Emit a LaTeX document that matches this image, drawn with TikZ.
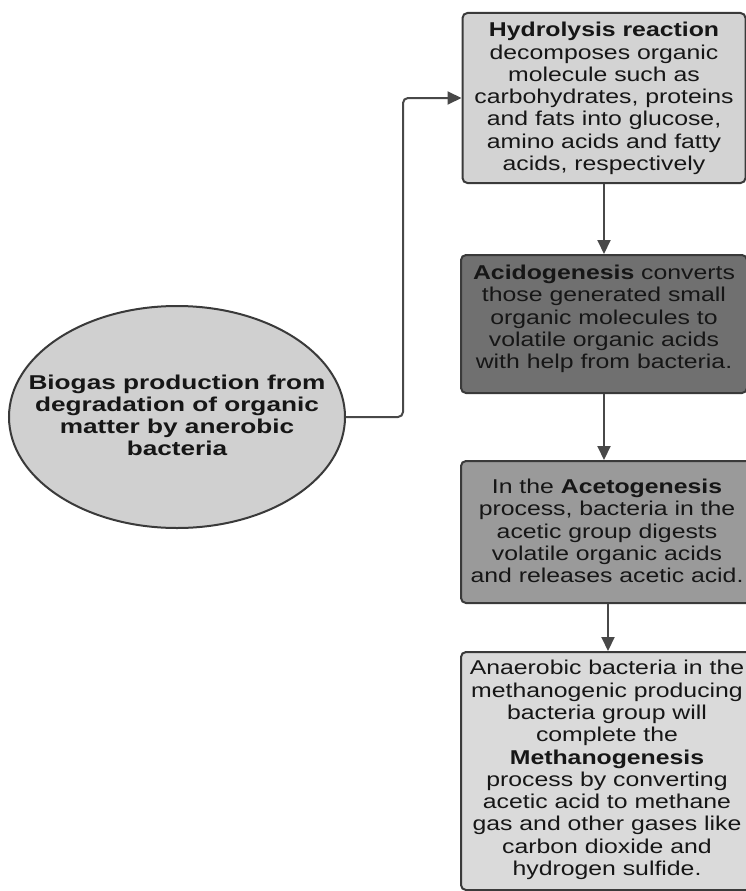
\documentclass[tikz,border=0pt]{standalone}
\usepackage{fontspec}
\usetikzlibrary{arrows.meta,shapes.geometric}
\newfontfamily\boxfont[FakeStretch=1.24]{Liberation Sans}
\newfontfamily\ellfont[FakeStretch=1.31]{Liberation Sans}
\definecolor{edge}{HTML}{3A3A3A}
\definecolor{ink}{HTML}{161616}
\definecolor{arrowgray}{HTML}{484848}
\definecolor{fillhyd}{HTML}{D3D3D3}
\definecolor{fillacid}{HTML}{707070}
\definecolor{fillacet}{HTML}{9A9A9A}
\definecolor{fillmeth}{HTML}{DADADA}
\definecolor{fillbio}{HTML}{D0D0D0}
\tikzset{
  stagebox/.style={draw=edge, line width=2pt, rounded corners=5pt, inner sep=0pt},
  stagetext/.style={text=ink, align=center, inner sep=0pt,
    font=\boxfont\fontsize{20}{22.3}\selectfont},
  startnode/.style={ellipse, draw=edge, line width=2pt, fill=fillbio, inner sep=0pt,
    minimum width=336pt, minimum height=222pt},
  starttext/.style={text=ink, align=center, inner sep=0pt,
    font=\ellfont\bfseries\fontsize{20}{22}\selectfont},
  flow/.style={draw=arrowgray, line width=2pt,
    -{Triangle[length=14pt,width=13pt]}},
}
\begin{document}
\begin{tikzpicture}[x=1pt,y=-1pt]
  \useasboundingbox[fill=white] (0,0) rectangle (746,891);

  % stage boxes
  \node[stagebox, fill=fillhyd, minimum width=283pt, minimum height=170pt] (hyd) at (604,98) {};
  \node[stagebox, fill=fillacid, minimum width=286pt, minimum height=138pt] (acid) at (604,324) {};
  \node[stagebox, fill=fillacet, minimum width=294pt, minimum height=142pt] (acet) at (608,532) {};
  \node[stagebox, fill=fillmeth, minimum width=294pt, minimum height=238pt] (meth) at (608,771) {};

  % stage descriptions
  \node[stagetext] (hydtext) at (604,98.5) {\textbf{Hydrolysis reaction}\\decomposes organic\\molecule such as\\carbohydrates, proteins\\and fats into glucose,\\amino acids and fatty\\acids, respectively};
  \node[stagetext] (acidtext) at (604,319) {\textbf{Acidogenesis} converts\\those generated small\\organic molecules to\\volatile organic acids\\with help from bacteria.};
  \node[stagetext] (acettext) at (607,531) {In the \textbf{Acetogenesis}\\process, bacteria in the\\acetic group digests\\volatile organic acids\\and releases acetic acid.};
  \node[stagetext] (methtext) at (607,770) {Anaerobic bacteria in the\\methanogenic producing\\bacteria group will\\complete the\\\textbf{Methanogenesis}\\process by converting\\acetic acid to methane\\gas and other gases like\\carbon dioxide and\\hydrogen sulfide.};

  % starting point
  \node[startnode] (bio) at (177,417) {};
  \node[starttext] (biotext) at (177,415) {Biogas production from\\degradation of organic\\matter by anerobic\\bacteria};

  % connectors
  \draw[flow, rounded corners=5pt] (bio.east) -- ++(57,0) |- (hyd.west);
  \draw[flow] (hyd.south) -- (hyd.south |- acid.north);
  \draw[flow] (acid.south) -- (acid.south |- acet.north);
  \draw[flow] (acet.south) -- (acet.south |- meth.north);
\end{tikzpicture}
\end{document}
